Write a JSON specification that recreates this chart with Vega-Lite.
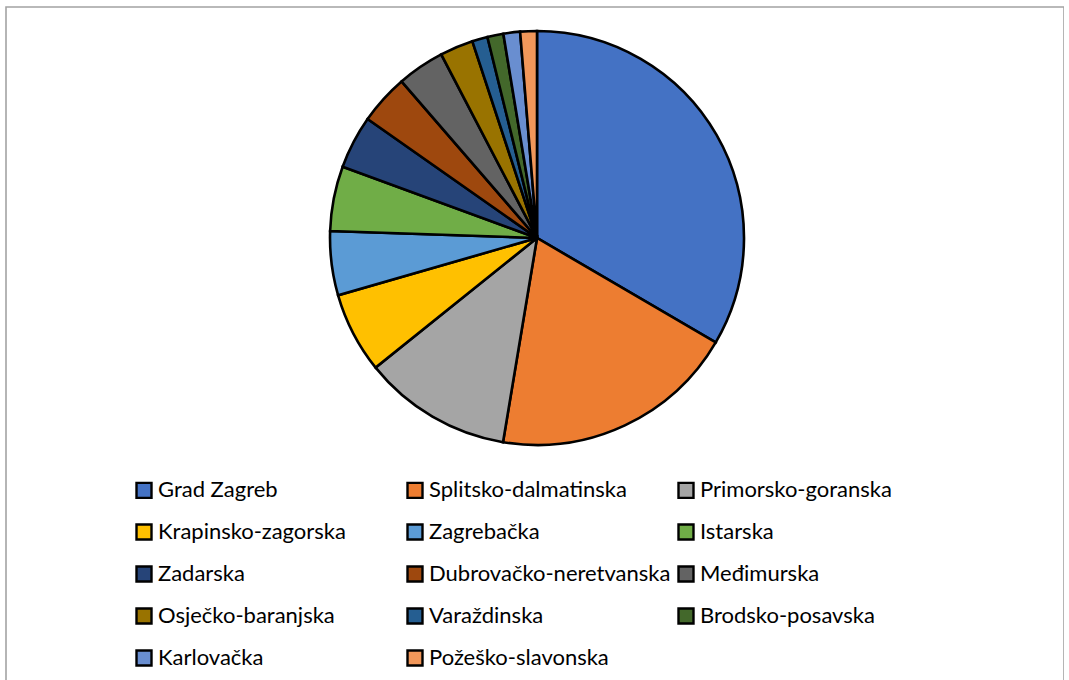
{
  "$schema": "https://vega.github.io/schema/vega-lite/v6.json",
  "width": 1058,
  "height": 720,
  "autosize": {"type": "none"},
  "padding": {"left": 6, "top": 7, "right": 0, "bottom": 0},
  "background": "white",
  "config": {
    "view": {"stroke": "#a3a3a3", "strokeWidth": 1.6},
    "font": "Lato"
  },
  "data": {
    "values": [
      {"county": "Grad Zagreb", "share": 33.4, "order": 1},
      {"county": "Splitsko-dalmatinska", "share": 19.2, "order": 2},
      {"county": "Primorsko-goranska", "share": 11.6, "order": 3},
      {"county": "Krapinsko-zagorska", "share": 6.3, "order": 4},
      {"county": "Zagrebačka", "share": 5.0, "order": 5},
      {"county": "Istarska", "share": 5.05, "order": 6},
      {"county": "Zadarska", "share": 4.15, "order": 7},
      {"county": "Dubrovačko-neretvanska", "share": 3.9, "order": 8},
      {"county": "Međimurska", "share": 3.7, "order": 9},
      {"county": "Osječko-baranjska", "share": 2.6, "order": 10},
      {"county": "Varaždinska", "share": 1.2, "order": 11},
      {"county": "Brodsko-posavska", "share": 1.25, "order": 12},
      {"county": "Karlovačka", "share": 1.3, "order": 13},
      {"county": "Požeško-slavonska", "share": 1.3, "order": 14}
    ]
  },
  "mark": {"type": "arc", "outerRadius": 207, "stroke": "black", "strokeWidth": 2.6},
  "encoding": {
    "theta": {"field": "share", "type": "quantitative", "stack": true},
    "order": {"field": "order", "type": "quantitative"},
    "x": {"datum": 0.5019, "type": "quantitative", "scale": {"domain": [0, 1], "nice": false, "zero": false}, "axis": null},
    "y": {"datum": 0.6792, "type": "quantitative", "scale": {"domain": [0, 1], "nice": false, "zero": false}, "axis": null},
    "color": {
      "field": "county",
      "type": "nominal",
      "scale": {
        "domain": ["Grad Zagreb", "Splitsko-dalmatinska", "Primorsko-goranska", "Krapinsko-zagorska", "Zagrebačka", "Istarska", "Zadarska", "Dubrovačko-neretvanska", "Međimurska", "Osječko-baranjska", "Varaždinska", "Brodsko-posavska", "Karlovačka", "Požeško-slavonska"],
        "range": ["#4472C4", "#ED7D31", "#A5A5A5", "#FFC000", "#5B9BD5", "#70AD47", "#264478", "#9E480E", "#636363", "#997300", "#255E91", "#43682B", "#698ED0", "#F1975A"]
      },
      "legend": {
        "orient": "none",
        "legendX": 127,
        "legendY": 472,
        "direction": "horizontal",
        "columns": 3,
        "gridAlign": "all",
        "columnPadding": 2,
        "rowPadding": 16,
        "padding": 0,
        "title": null,
        "symbolType": "square",
        "symbolSize": 225,
        "symbolStrokeColor": "black",
        "symbolStrokeWidth": 2.4,
        "symbolOpacity": 1,
        "labelFont": "Lato",
        "labelFontSize": 22,
        "labelColor": "black",
        "labelOffset": 3,
        "labelLimit": 400
      }
    }
  }
}
